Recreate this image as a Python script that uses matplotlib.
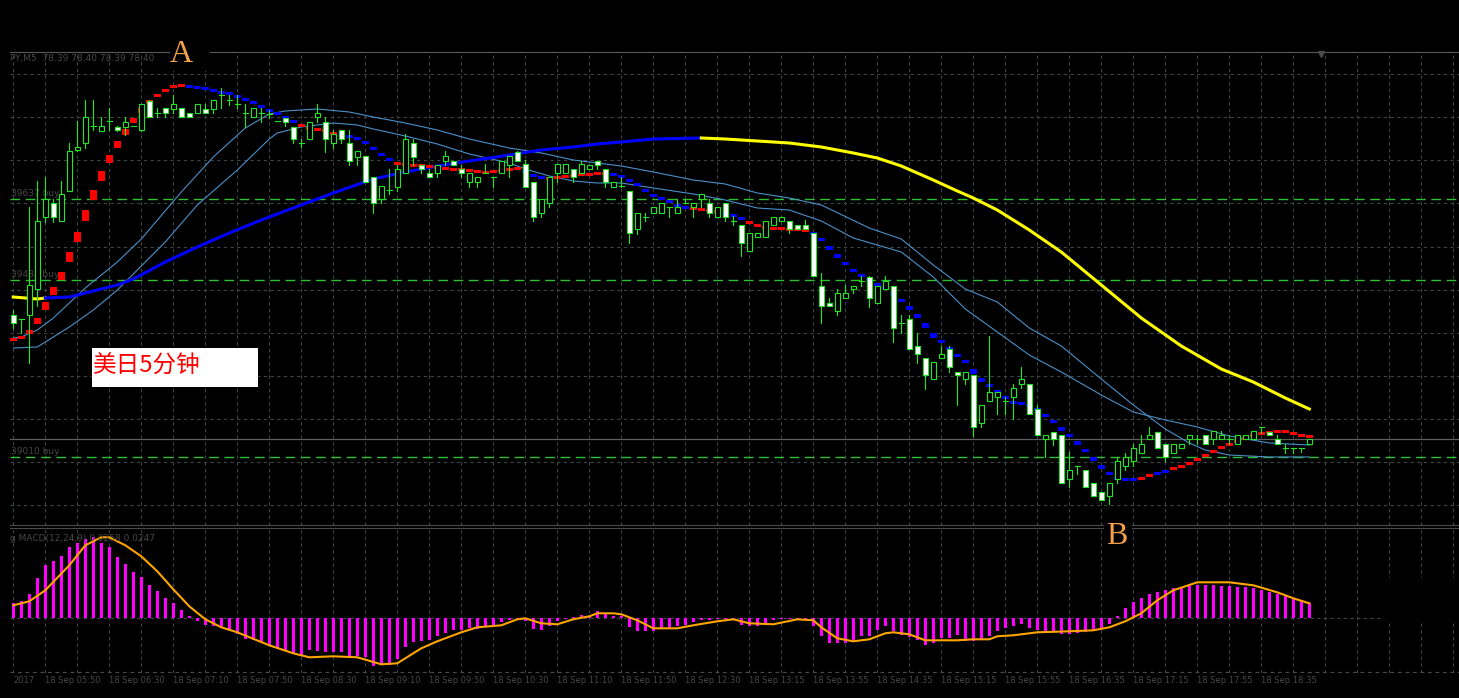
import numpy as np
import matplotlib.pyplot as plt
from matplotlib.patches import Rectangle

plt.rcParams['font.family'] = ['DejaVu Sans']

# ---- data (5 min bars, prices in points, MACD in chart units) ----
opens = [210, 206, 210, 236, 308, 322, 304, 334, 375, 382,
         399, 394, 404, 398, 398, 399, 395, 424, 412, 417,
         416, 417, 412, 412, 416, 416, 430, 425, 421, 412,
         408, 412, 411, 404, 407, 398, 382, 386, 408, 403,
         382, 395, 382, 368, 369, 348, 326, 335, 338, 352,
         382, 360, 352, 352, 364, 364, 356, 343, 343, 352,
         348, 352, 360, 373, 361, 343, 312, 322, 352, 352,
         356, 352, 356, 364, 356, 338, 339, 334, 296, 308,
         312, 312, 318, 312, 322, 318, 326, 322, 308, 322,
         304, 300, 274, 288, 288, 300, 304, 304, 300, 300,
         292, 239, 222, 214, 227, 236, 244, 248, 222, 236,
         239, 202, 206, 179, 167, 146, 167, 176, 153, 146,
         150, 102, 124, 128, 124, 128, 141, 141, 116, 86,
         93, 90, 46, 59, 55, 42, 33, 29, 46, 59,
         64, 72, 86, 93, 81, 72, 77, 86, 86, 90,
         86, 86, 86, 81, 86, 86, 98, 93, 86, 77,
         77, 77, 81]
highs = [215, 206, 318, 344, 348, 326, 344, 382, 404, 425,
         425, 408, 417, 399, 408, 399, 421, 425, 417, 417,
         430, 417, 412, 421, 421, 425, 437, 430, 430, 421,
         417, 417, 415, 404, 407, 398, 386, 403, 421, 408,
         395, 395, 395, 374, 369, 348, 339, 356, 360, 391,
         386, 360, 356, 360, 374, 364, 360, 352, 348, 361,
         348, 364, 369, 374, 365, 343, 326, 348, 361, 361,
         356, 364, 360, 364, 356, 343, 348, 334, 312, 312,
         318, 322, 318, 326, 326, 322, 331, 326, 318, 322,
         309, 300, 292, 292, 304, 308, 308, 304, 300, 305,
         292, 252, 227, 236, 240, 239, 249, 249, 239, 249,
         239, 210, 210, 192, 167, 163, 179, 179, 153, 153,
         150, 120, 189, 133, 128, 141, 158, 141, 120, 90,
         93, 90, 73, 59, 55, 42, 33, 42, 68, 72,
         81, 90, 98, 93, 81, 81, 81, 90, 90, 90,
         94, 94, 90, 90, 90, 94, 98, 93, 90, 81,
         77, 77, 86]
lows = [197, 192, 162, 219, 303, 303, 304, 334, 374, 377,
        395, 394, 395, 394, 390, 399, 394, 408, 408, 408,
        412, 408, 408, 412, 412, 412, 417, 420, 417, 398,
        408, 403, 407, 404, 399, 382, 378, 386, 403, 373,
        377, 382, 360, 360, 343, 312, 322, 331, 334, 352,
        360, 352, 348, 348, 360, 360, 348, 338, 338, 352,
        338, 352, 348, 364, 338, 304, 308, 318, 343, 352,
        343, 352, 356, 356, 338, 338, 338, 282, 291, 304,
        312, 312, 308, 312, 322, 308, 318, 308, 308, 304,
        300, 269, 274, 288, 288, 300, 304, 292, 296, 296,
        249, 202, 219, 210, 227, 232, 239, 218, 222, 236,
        183, 192, 176, 162, 136, 146, 167, 153, 120, 141,
        89, 98, 124, 111, 111, 106, 137, 111, 90, 68,
        80, 42, 38, 51, 38, 29, 25, 21, 42, 55,
        59, 72, 86, 77, 64, 72, 77, 81, 81, 81,
        81, 86, 81, 81, 86, 86, 92, 90, 81, 72,
        72, 73, 81]
closes = [202, 206, 240, 304, 326, 308, 331, 374, 378, 408,
          399, 399, 404, 395, 403, 399, 421, 408, 412, 412,
          421, 408, 408, 421, 412, 425, 430, 425, 421, 412,
          417, 412, 411, 404, 403, 386, 382, 403, 412, 386,
          391, 386, 364, 374, 343, 322, 339, 335, 356, 386,
          368, 356, 348, 360, 369, 360, 352, 352, 348, 352,
          348, 364, 369, 364, 338, 308, 326, 348, 361, 361,
          348, 361, 360, 360, 343, 343, 339, 292, 312, 308,
          318, 322, 318, 318, 322, 322, 331, 312, 318, 308,
          304, 282, 292, 292, 304, 308, 308, 296, 296, 296,
          249, 219, 219, 232, 232, 239, 244, 227, 239, 244,
          197, 202, 176, 171, 150, 163, 171, 158, 150, 153,
          98, 120, 133, 133, 124, 137, 146, 111, 90, 90,
          86, 42, 55, 59, 38, 29, 25, 42, 64, 68,
          77, 81, 90, 77, 68, 81, 81, 90, 86, 81,
          94, 90, 86, 90, 90, 94, 98, 90, 81, 77,
          77, 77, 86]

# step trend line (red = up, blue = down)
step_vals = [186, 188, 195, 207, 223, 238, 253, 273, 293, 315,
             335, 354, 370, 384, 396, 407, 417, 425, 431, 435,
             439, 440, 438, 437, 436, 434, 432, 431, 428, 425,
             421, 417, 414, 410, 406, 402, 399, 396, 395, 394,
             391, 391, 388, 386, 382, 375, 369, 364, 361, 360,
             360, 359, 358, 357, 356, 356, 355, 354, 353, 353,
             354, 355, 356, 357, 353, 349, 347, 347, 348, 349,
             350, 351, 351, 352, 352, 350, 348, 344, 339, 333,
             329, 326, 323, 319, 317, 316, 315, 314, 313, 311,
             309, 306, 302, 299, 297, 297, 296, 296, 295, 295,
             291, 284, 275, 267, 260, 253, 249, 244, 239, 237,
             229, 223, 215, 207, 197, 187, 182, 175, 168, 162,
             151, 143, 138, 132, 126, 122, 122, 119, 115, 108,
             102, 94, 88, 80, 73, 64, 56, 50, 46, 46,
             45, 47, 50, 52, 54, 57, 59, 63, 67, 70,
             75, 78, 81, 85, 87, 90, 92, 93, 94, 93,
             91, 89, 88]
step_runs = [(22, 'up'), (14, 'dn'), (5, 'up'), (7, 'dn'), (16, 'up'), (3, 'dn'),
             (8, 'up'), (10, 'dn'), (4, 'up'), (3, 'dn'), (8, 'up'), (41, 'dn'),
             (2, 'up'), (2, 'dn'), (18, 'up')]

# slow moving average (thick), sampled at bars
ma_bars = [0, 3, 4, 7, 11, 13, 15, 19, 23, 27, 31, 36, 40, 45, 49, 53, 57, 62, 66, 70,
           73, 76, 80, 86, 89, 93, 97, 101, 105, 108, 111, 115, 118, 120, 123, 127,
           131, 136, 141, 146, 151, 155, 159, 162]
ma_vals = [228, 226, 227, 228, 236, 240, 246, 263, 278, 292, 305, 320, 332, 346, 353,
           359, 364, 370, 375, 378, 381, 383, 386, 387, 386, 384, 382, 378, 372, 367,
           359, 345, 334, 327, 315, 295, 273, 240, 207, 179, 156, 143, 127, 116]
ma_blue_from, ma_blue_to = 4, 86

# two thin averages
l1_bars = [0, 1, 3, 5, 9, 13, 16, 21, 25, 29, 32, 34, 38, 42, 45, 49, 53, 57, 62, 66,
           70, 73, 76, 80, 85, 89, 93, 97, 101, 107, 111, 115, 119, 123, 127, 131,
           136, 140, 144, 147, 149, 152, 157, 162]
l1_vals = [187, 188, 195, 207, 237, 263, 286, 333, 368, 397, 411, 414, 416, 413, 408,
           402, 395, 386, 377, 372, 365, 362, 359, 353, 345, 341, 332, 327, 320, 297,
           286, 260, 236, 223, 197, 179, 146, 120, 96, 82, 75, 70, 68, 68]
l2_bars = [0, 3, 4, 7, 10, 13, 19, 23, 28, 32, 33, 36, 40, 43, 45, 49, 53, 57, 62, 64,
           67, 70, 73, 76, 80, 85, 89, 93, 97, 101, 105, 111, 115, 119, 123, 127,
           131, 136, 140, 144, 148, 152, 157, 162]
l2_vals = [177, 178, 183, 198, 215, 235, 283, 320, 355, 386, 392, 398, 402, 400, 396,
           389, 381, 371, 362, 356, 349, 344, 342, 342, 337, 331, 325, 317, 315, 304,
           287, 273, 248, 216, 193, 170, 153, 130, 113, 105, 98, 89, 82, 80]

order_levels = [325.7, 245, 68.3]
order_names = ['39637 buy', '39484 buy', '39010 buy']
bid = 86

macd_hist = [15, 17, 24, 40, 53, 57, 62, 71, 75, 79,
             81, 75, 71, 61, 54, 46, 41, 33, 27, 20,
             15, 8, 2, -3, -7, -8, -9, -12, -16, -21,
             -22, -25, -28, -30, -32, -35, -37, -32, -33, -34,
             -34, -34, -38, -38, -39, -48, -47, -47, -41, -29,
             -24, -23, -22, -18, -15, -12, -12, -10, -11, -9,
             -8, -4, -2, -1, -3, -11, -12, -8, -3, -1,
             1, 3, 2, 7, 5, 2, 2, -9, -13, -13,
             -13, -10, -10, -8, -7, -4, -2, -2, -1, -1,
             -2, -7, -8, -8, -5, -2, -1, -1, -1, -2,
             -8, -18, -25, -25, -25, -22, -18, -18, -12, -8,
             -13, -17, -19, -22, -27, -25, -20, -20, -17, -23,
             -23, -22, -18, -13, -10, -8, -6, -10, -12, -14,
             -14, -16, -16, -15, -14, -12, -10, -6, 2, 10,
             16, 20, 24, 26, 28, 30, 31, 32, 33, 33,
             33, 32, 32, 31, 31, 30, 28, 26, 24, 22,
             20, 17, 15]
sig_bars = [0, 2, 4, 7, 9, 11, 12, 14, 16, 18, 20, 22, 24, 26, 28, 32, 35, 37, 40, 43,
            46, 48, 51, 53, 56, 58, 61, 63, 64, 66, 68, 70, 72, 73, 75, 76, 78, 80, 83,
            85, 88, 90, 92, 95, 98, 100, 101, 103, 105, 107, 109, 110, 112, 114, 118,
            120, 122, 123, 125, 128, 132, 135, 137, 139, 141, 143, 145, 148, 152, 155,
            158, 160, 162]
sig_vals = [13, 17, 28, 53, 73, 81, 81, 73, 62, 47, 29, 12, -1, -9, -14, -27, -35, -39,
            -38, -39, -46, -45, -30, -23, -14, -9, -7, -1, 0, -5, -6, -1, 2, 5, 5, 4,
            -2, -10, -10, -7, -3, -1, -5, -6, -1, -2, -9, -20, -23, -21, -15, -14, -16,
            -22, -22, -21, -21, -18, -17, -14, -13, -12, -9, -3, 5, 18, 28, 36, 36, 33,
            26, 20, 15]

time_labels = ['2017', '18 Sep 05:50', '18 Sep 06:30', '18 Sep 07:10', '18 Sep 07:50',
               '18 Sep 08:30', '18 Sep 09:10', '18 Sep 09:50', '18 Sep 10:30',
               '18 Sep 11:10', '18 Sep 11:50', '18 Sep 12:30', '18 Sep 13:15',
               '18 Sep 13:55', '18 Sep 14:35', '18 Sep 15:15', '18 Sep 15:55',
               '18 Sep 16:35', '18 Sep 17:15', '18 Sep 17:55', '18 Sep 18:35']
label_bars = [0] + [4 + 8 * k for k in range(len(time_labels) - 1)]

# ---- layout ----
W, H = 1459, 698
fig = plt.figure(figsize=(W / 100, H / 100), dpi=100, facecolor='black')

def fx(px):
    return px / W

def fy(py):
    return 1 - py / H

GRID = '#3a4643'
LIME = '#22e622'
TXT = '#474747'
dash = (0, (3, 3))

x0 = -(13.3 - 10) / 8
x1 = (W - 13.3) / 8

ax = fig.add_axes([fx(10), fy(525), fx(W) - fx(10), fy(51.7) - fy(525)])
ax.set_facecolor('black')
ax.set_xlim(x0, x1)
ax.set_ylim(0, 525 - 51.7)
ax.set_xticks([])
ax.set_yticks([])
for s in ax.spines.values():
    s.set_visible(False)
ax.spines['top'].set_visible(True)
ax.spines['top'].set_color('#5a5a5a')
ax.spines['bottom'].set_visible(True)
ax.spines['bottom'].set_color('#4a4a4a')

gx = np.arange(0, x1, 4)
ax.vlines(gx, 0, 473.3, colors=GRID, linestyles=dash, lw=0.8, zorder=0)
gy = 407.7 - 43.1 * np.arange(-1, 10)
ax.hlines(gy, x0, x1, colors=GRID, linestyles=dash, lw=0.8, zorder=0)

for lv, nm in zip(order_levels, order_names):
    ax.axhline(lv, color='#2fc02f', ls=(0, (7, 4)), lw=1, zorder=1)
    ax.annotate(nm, xy=(x0, lv), xytext=(1, 1), textcoords='offset pixels',
                color=TXT, fontsize=6.5, va='bottom', ha='left')
ax.axhline(bid, color='#5e5e5e', lw=0.9, zorder=1)

# thin averages
ax.plot(l1_bars, l1_vals, color='#4a90c8', lw=0.8, zorder=2)
ax.plot(l2_bars, l2_vals, color='#4a90c8', lw=0.8, zorder=2)

# thick average, yellow / blue parts
mb = np.array(ma_bars)
mv = np.array(ma_vals)
seg1 = mb <= ma_blue_from
seg2 = (mb >= ma_blue_from) & (mb <= ma_blue_to)
seg3 = mb >= ma_blue_to
ax.plot(mb[seg1], mv[seg1], color='#ffff00', lw=2.2, zorder=3)
ax.plot(mb[seg2], mv[seg2], color='#0000ff', lw=2.2, zorder=3)
ax.plot(mb[seg3], mv[seg3], color='#ffff00', lw=2.2, zorder=3)

# step trend blocks
trend = []
for n, d in step_runs:
    trend += [d] * n
for i, v in enumerate(step_vals):
    prev = step_vals[i - 1] if i > 0 else v
    mid = (v + prev) / 2
    lo, hi = min(v, mid), max(v, mid)
    if hi - lo < 3:
        c = (hi + lo) / 2
        lo, hi = c - 1.5, c + 1.5
    col = '#ff0000' if trend[i] == 'up' else '#0000ff'
    ax.add_patch(Rectangle((i - 0.45, lo), 0.9, hi - lo, color=col, lw=0, zorder=4))

# candles
bw = 0.66
for i, (o, h, l, c) in enumerate(zip(opens, highs, lows, closes)):
    if h > l:
        ax.plot([i, i], [l, h], color=LIME, lw=0.8, zorder=5)
    if o == c:
        ax.plot([i - bw / 2, i + bw / 2], [o, o], color=LIME, lw=0.8, zorder=6)
    else:
        fc = 'black' if c > o else 'white'
        ax.add_patch(Rectangle((i - bw / 2, min(o, c)), bw, abs(c - o), facecolor=fc,
                               edgecolor=LIME, lw=0.8, zorder=6))

# chart shift marker
ax.plot([len(closes) + 0.5], [471], marker='v', color='#4a4a4a', ms=5, clip_on=False, zorder=7)

# ---- MACD window ----
ax2 = fig.add_axes([fx(10), fy(672.7), fx(W) - fx(10), fy(528) - fy(672.7)])
ax2.set_facecolor('black')
ax2.set_xlim(x0, x1)
ax2.set_ylim(-54.4, 90.3)
ax2.set_xticks([])
ax2.set_yticks([])
for s in ax2.spines.values():
    s.set_visible(False)
ax2.spines['top'].set_visible(True)
ax2.spines['top'].set_color('#4a4a4a')
ax2.vlines(gx, -54.4, 90.3, colors=GRID, linestyles=dash, lw=0.8, zorder=0)
ax2.axhline(-54.0, color='#4a4a4a', ls=dash, lw=0.9)
ax2.axhline(0, color=GRID, ls=dash, lw=0.8, zorder=0)
ax2.bar(np.arange(len(macd_hist)), macd_hist, width=0.45, color='#ff00ff', zorder=2)
ax2.plot(sig_bars, sig_vals, color='#ffa500', lw=1.5, zorder=3)

for lb, t in zip(label_bars, time_labels):
    ax2.annotate(t, xy=(lb, 0), xycoords=('data', 'axes fraction'), xytext=(0, -8),
                 textcoords='offset pixels', color=TXT, fontsize=6, va='center', ha='left')

# ---- texts ----
fig.text(fx(10), fy(59), 'PY,M5  78.39 78.40 78.39 78.40', color=TXT, fontsize=6.5, va='center')
fig.text(fx(10), fy(538.5), 'g MACD(12,24,9) 0.0258 0.0247', color=TXT, fontsize=6.5, va='center')

# blank patch at the right of the MACD window
fig.patches.append(Rectangle((fx(1380), fy(620)), fx(79), 42 / H, transform=fig.transFigure,
                             facecolor='black', edgecolor='none', zorder=5))

fig.patches.append(Rectangle((fx(170), fy(71)), fx(40), 38 / H, transform=fig.transFigure,
                             facecolor='black', edgecolor='none', zorder=5))
fig.text(fx(181), fy(55), 'A', color='#f5a04a', fontsize=23, family='Liberation Serif',
         ha='center', va='center', zorder=6)
fig.patches.append(Rectangle((fx(1104), fy(551)), fx(28), 28 / H, transform=fig.transFigure,
                             facecolor='black', edgecolor='none', zorder=5))
fig.text(fx(1117), fy(537), 'B', color='#f5a04a', fontsize=23, family='Liberation Serif',
         ha='center', va='center', zorder=6)

fig.patches.append(Rectangle((fx(92), fy(387)), fx(166), 39 / H, transform=fig.transFigure,
                             facecolor='white', edgecolor='none', zorder=5))
fig.text(fx(93), fy(366), '美日5分钟', color='#ff0000', fontsize=17,
         family=['Noto Sans CJK SC', 'DejaVu Sans'], va='center', ha='left', zorder=6)

fig.savefig('out.png', dpi=100, facecolor='black')
